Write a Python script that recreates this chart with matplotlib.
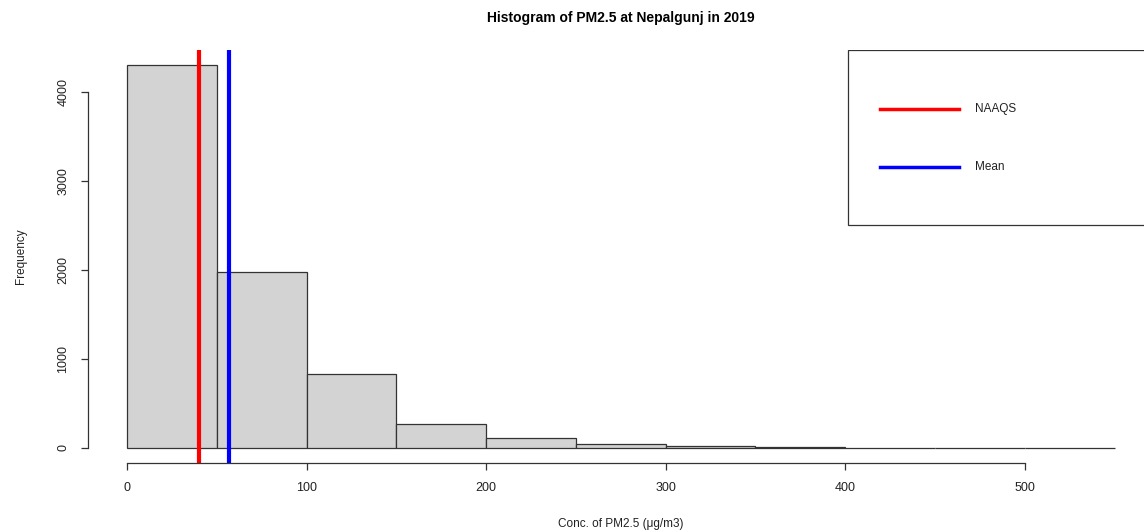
import matplotlib
matplotlib.use("Agg")
import matplotlib.pyplot as plt
from matplotlib.patches import Rectangle

plt.rcParams['font.family'] = ['Liberation Sans', 'DejaVu Sans']

# ------------------------------------------------------------------
# donnees
# ------------------------------------------------------------------
bin_edges = [0, 50, 100, 150, 200, 250, 300, 350, 400, 450, 500, 550]
counts = [4305, 1975, 825, 272, 113, 42, 16, 3, 2, 1, 1]
naaqs = 40
mean_pm = 57
x_ticks = [0, 100, 200, 300, 400, 500]
y_ticks = [0, 1000, 2000, 3000, 4000]

# ------------------------------------------------------------------
# figure
# ------------------------------------------------------------------
fig = plt.figure(figsize=(11.44, 5.31), dpi=100)
ax = fig.add_axes([0.0765, 0.128, 0.9323, 0.778])

widths = [b - a for a, b in zip(bin_edges[:-1], bin_edges[1:])]
ax.bar(bin_edges[:-1], counts, width=widths, align='edge',
       color='#D3D3D3', edgecolor='#333333', linewidth=0.9)

ax.axvline(naaqs, color='#FF0000', linewidth=3)
ax.axvline(mean_pm, color='#0000FF', linewidth=3)

# limites facon R (4% de marge)
xr = bin_edges[-1] - bin_edges[0]
ax.set_xlim(bin_edges[0] - 0.04 * xr, bin_edges[-1] + 0.04 * xr)
ymax = max(counts)
ax.set_ylim(-0.04 * ymax, 1.04 * ymax)

for s in ['top', 'right']:
    ax.spines[s].set_visible(False)
ax.spines['left'].set_bounds(y_ticks[0], y_ticks[-1])
ax.spines['bottom'].set_bounds(x_ticks[0], x_ticks[-1])
for s in ['left', 'bottom']:
    ax.spines[s].set_color('#333333')
    ax.spines[s].set_linewidth(0.9)

ax.set_xticks(x_ticks)
ax.set_yticks(y_ticks)
ax.tick_params(axis='both', direction='out', length=5, width=0.9,
               color='#333333', labelsize=9, labelcolor='#222222')
ax.tick_params(axis='x', pad=9)
ax.tick_params(axis='y', pad=8)
for lab in ax.get_yticklabels():
    lab.set_rotation(90)
    lab.set_va('center')

ax.set_xlabel("Conc. of PM2.5 (μg/m3)", fontsize=8.5, color='#222222', labelpad=17)
ax.set_ylabel("Frequency", fontsize=8.5, color='#222222', labelpad=22)
ax.set_title("Histogram of PM2.5 at Nepalgunj in 2019", fontsize=10,
             fontweight='bold', pad=20)

# legende (boite en haut a droite, comme R)
ax.add_patch(Rectangle((0.713, 0.576), 0.287, 0.424, transform=ax.transAxes,
                       facecolor='white', edgecolor='#333333', linewidth=0.9,
                       zorder=5))
for yy, col, lab in [(0.857, '#FF0000', 'NAAQS'), (0.717, '#0000FF', 'Mean')]:
    ax.plot([0.743, 0.817], [yy, yy], color=col, linewidth=2.5,
            transform=ax.transAxes, zorder=6, clip_on=False)
    ax.text(0.832, yy, lab, transform=ax.transAxes, fontsize=8.5,
            va='center', ha='left', color='#222222', zorder=6)

plt.savefig("out.png", dpi=100)
plt.close()
